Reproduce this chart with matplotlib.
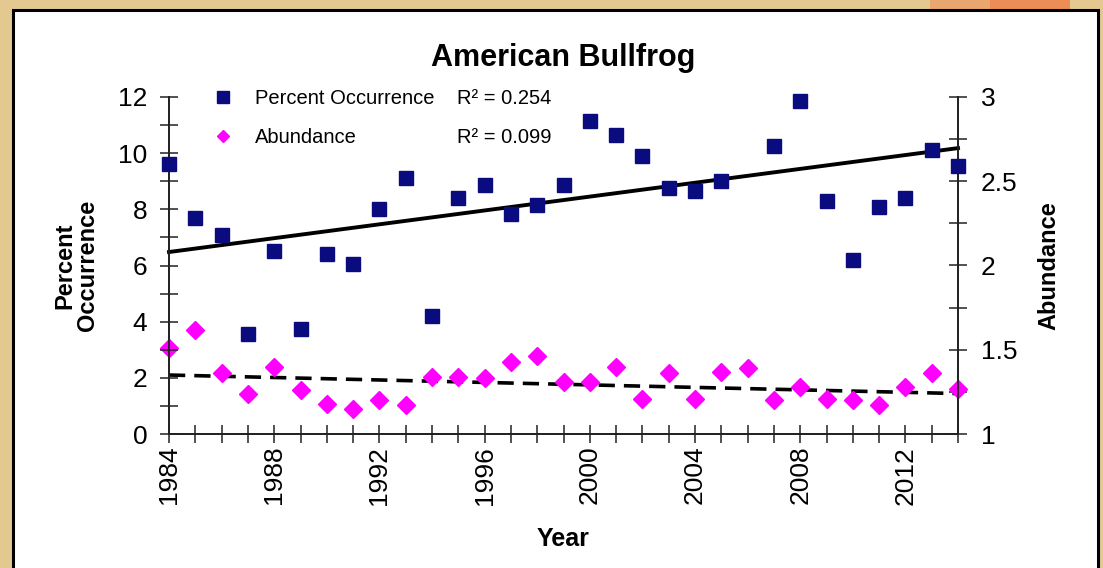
"""
American Bullfrog: percent occurrence and abundance by year, with linear trends.
"""

import matplotlib.pyplot as plt
from matplotlib.lines import Line2D
from matplotlib.patches import Rectangle
from matplotlib.ticker import MultipleLocator

plt.rcParams["font.family"] = ["Liberation Sans", "DejaVu Sans"]

# percent occurrence (left axis); no point drawn for 2006
OCC_YEARS = [1984, 1985, 1986, 1987, 1988, 1989, 1990, 1991, 1992, 1993,
             1994, 1995, 1996, 1997, 1998, 1999, 2000, 2001, 2002, 2003,
             2004, 2005, 2007, 2008, 2009, 2010, 2011, 2012, 2013, 2014]
OCCURRENCE = [9.6, 7.7, 7.1, 3.55, 6.5, 3.75, 6.4, 6.05, 8.0, 9.1,
              4.2, 8.4, 8.85, 7.85, 8.15, 8.85, 11.15, 10.65, 9.9, 8.75,
              8.65, 9.0, 10.25, 11.85, 8.3, 6.2, 8.1, 8.4, 10.1, 9.55]

# abundance (right axis)
ABU_YEARS = list(range(1984, 2015))
ABUNDANCE = [1.51, 1.62, 1.36, 1.24, 1.40, 1.26, 1.18, 1.15, 1.20, 1.17,
             1.34, 1.34, 1.33, 1.43, 1.46, 1.31, 1.31, 1.40, 1.21, 1.36,
             1.21, 1.37, 1.39, 1.20, 1.28, 1.21, 1.20, 1.17, 1.28, 1.36,
             1.27]

# linear trend lines as drawn in the original (end points)
TREND_YEARS = [1984, 2014]
TREND_OCC = [6.48, 10.18]
TREND_ABU = [1.35, 1.24]

R2_OCC = "R² = 0.254"
R2_ABU = "R² = 0.099"

NAVY = "#0b0b80"
MAGENTA = "#ff00ff"
TAN = "#e3c98f"

fig = plt.figure(figsize=(11.03, 5.68), dpi=100, facecolor=TAN)

# white panel with black frame on the tan backdrop, orange glow top right
fig.patches.append(Rectangle((930 / 1103, 1 - 10 / 568), 60 / 1103, 10 / 568,
                             transform=fig.transFigure, facecolor="#e9a66e",
                             edgecolor="none", zorder=0))
fig.patches.append(Rectangle((990 / 1103, 1 - 10 / 568), 80 / 1103, 10 / 568,
                             transform=fig.transFigure, facecolor="#ec8d55",
                             edgecolor="none", zorder=0))
fig.patches.append(Rectangle((13 / 1103, -0.05), (1098 - 13) / 1103, 1.05 - 10 / 568,
                             transform=fig.transFigure, facecolor="white",
                             edgecolor="black", linewidth=2.2, zorder=1))

ax = fig.add_axes([169 / 1103, 1 - 434 / 568, (958 - 169) / 1103, (434 - 97) / 568])
ax.set_facecolor("none")
ax.set_zorder(3)
ax2 = ax.twinx()
ax2.set_zorder(2)

ax.plot(TREND_YEARS, TREND_OCC, color="black", linewidth=2.8, zorder=2, clip_on=False)
ax.plot(OCC_YEARS, OCCURRENCE, linestyle="none", marker="s", markersize=10,
        color=NAVY, zorder=3, clip_on=False)

ax2.plot(TREND_YEARS, TREND_ABU, color="black", linewidth=2.6, dashes=(4.5, 2.5),
         zorder=2, clip_on=False)
ax2.plot(ABU_YEARS, ABUNDANCE, linestyle="none", marker="D", markersize=9,
         color=MAGENTA, zorder=3, clip_on=False)

ax.set_xlim(1984, 2014)
ax.set_ylim(0, 12)
ax2.set_ylim(1, 3)

ax.xaxis.set_major_locator(MultipleLocator(4))
ax.xaxis.set_minor_locator(MultipleLocator(1))
ax.yaxis.set_major_locator(MultipleLocator(2))
ax.yaxis.set_minor_locator(MultipleLocator(1))
ax2.yaxis.set_major_locator(MultipleLocator(0.5))
ax2.yaxis.set_minor_locator(MultipleLocator(0.25))
ax2.set_yticklabels([f"{v:g}" for v in ax2.get_yticks()])

spine_col = "#222222"
for a in (ax, ax2):
    a.spines["top"].set_visible(False)
    for side in ("left", "right", "bottom"):
        a.spines[side].set_color(spine_col)
        a.spines[side].set_linewidth(1.3)

ax.tick_params(axis="x", which="both", direction="inout", length=13, width=1.1,
               color=spine_col, labelsize=19, pad=2, labelrotation=90)
ax.tick_params(axis="y", which="both", direction="inout", length=13, width=1.1,
               color=spine_col, labelsize=19, pad=9)
ax2.tick_params(axis="y", which="both", direction="inout", length=13, width=1.1,
                color=spine_col, labelsize=19, pad=10)

ax.set_title("American Bullfrog", fontsize=22, fontweight="bold", pad=22)
ax.set_xlabel("Year", fontsize=18, fontweight="bold", labelpad=16)
ax.set_ylabel("Percent\nOccurrence", fontsize=17, fontweight="bold",
              labelpad=14, linespacing=0.95)
ax2.set_ylabel("Abundance", fontsize=17, fontweight="bold", labelpad=14)

handles = [
    Line2D([], [], linestyle="none", marker="s", markersize=8, color=NAVY),
    Line2D([], [], linestyle="none", marker="D", markersize=6, color=MAGENTA),
]
ax.legend(handles, ["Percent Occurrence", "Abundance"], loc="upper left",
          bbox_to_anchor=(0.030, 1.078), frameon=False, fontsize=14.5,
          handletextpad=1.0, labelspacing=1.0, handlelength=1.2)
ax.text(0.365, 0.995, R2_OCC, transform=ax.transAxes, fontsize=14.5, va="center")
ax.text(0.365, 0.88, R2_ABU, transform=ax.transAxes, fontsize=14.5, va="center")

fig.savefig("out.png", dpi=100, facecolor=fig.get_facecolor())
